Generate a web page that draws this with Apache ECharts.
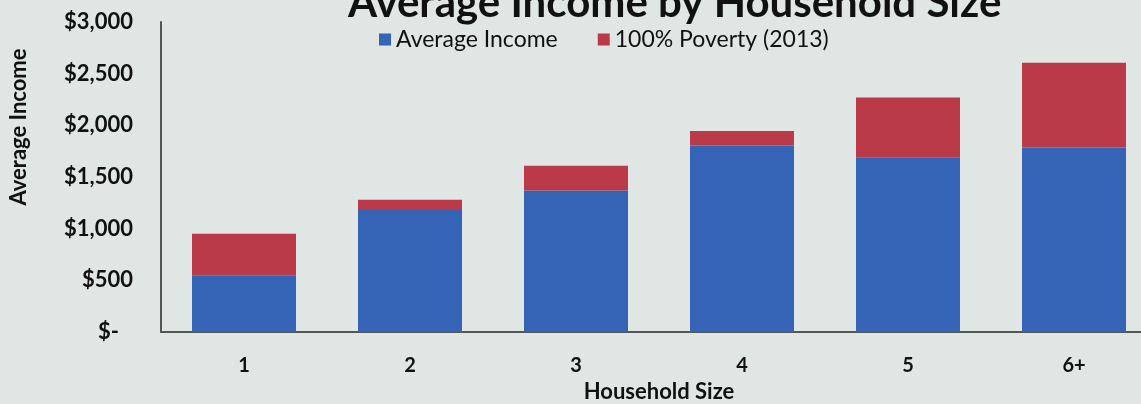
<!DOCTYPE html>
<html>
<head>
<meta charset="utf-8">
<script src="https://cdn.jsdelivr.net/npm/echarts@6/dist/echarts.min.js"></script>
<style>
html,body{margin:0;padding:0;background:#dfe6e3;}
#c{width:1141px;height:404px;}
</style>
</head>
<body>
<div id="c"></div>
<script>
var categories = ['1', '2', '3', '4', '5', '6+'];
var averageIncome = [550, 1180, 1370, 1805, 1690, 1785];
var poverty2013 = [400, 100, 240, 140, 580, 820];
var yTicks = [0, 500, 1000, 1500, 2000, 2500, 3000];

var font = 'Lato';
var chart = echarts.init(document.getElementById('c'), null, {renderer: 'canvas'});
chart.setOption({
  backgroundColor: '#dfe6e3',
  animation: false,
  title: {
    text: 'Average Income by Household Size',
    left: 343,
    top: -23,
    textStyle: {fontFamily: font, fontWeight: 'bold', fontSize: 42, color: '#111'}
  },
  legend: {
    left: 374,
    top: 23,
    itemWidth: 12,
    itemHeight: 12,
    itemGap: 40,
    icon: 'rect',
    textStyle: {fontFamily: font, fontSize: 23, color: '#111'},
    data: ['Average Income', '100% Poverty (2013)']
  },
  grid: {left: 161, top: 22, width: 996, height: 310, containLabel: false, outerBoundsMode: 'none'},
  xAxis: {
    type: 'category',
    data: categories,
    name: 'Household Size',
    nameLocation: 'middle',
    nameGap: 48,
    nameTextStyle: {fontFamily: font, fontWeight: 'bold', fontSize: 22, color: '#111'},
    axisLine: {lineStyle: {color: '#555', width: 2}},
    axisTick: {show: false},
    axisLabel: {fontFamily: font, fontWeight: 'bold', fontSize: 20, color: '#111', margin: 24}
  },
  yAxis: {
    type: 'value',
    min: yTicks[0],
    max: yTicks[yTicks.length - 1],
    interval: 500,
    name: 'Average Income',
    nameLocation: 'middle',
    nameGap: 131,
    nameTextStyle: {fontFamily: font, fontWeight: 'bold', fontSize: 22, color: '#111', padding: [0, 0, 0, 100]},
    axisLine: {show: true, lineStyle: {color: '#555', width: 2}},
    axisTick: {show: false},
    splitLine: {show: false},
    axisLabel: {
      fontFamily: font, fontWeight: 'bold', fontSize: 22, color: '#111', margin: 28,
      formatter: function (v) {
        if (v === 0) return '{z|$-}';
        return '$' + v.toLocaleString('en-US');
      },
      rich: {z: {fontFamily: font, fontWeight: 'bold', fontSize: 22, color: '#111', padding: [0, 14, 0, 0]}}
    }
  },
  series: [
    {
      name: 'Average Income',
      type: 'bar',
      stack: 'total',
      barWidth: 104,
      data: averageIncome,
      itemStyle: {color: '#3563b5'}
    },
    {
      name: '100% Poverty (2013)',
      type: 'bar',
      stack: 'total',
      barWidth: 104,
      data: poverty2013,
      itemStyle: {color: '#bb3a4a'}
    }
  ]
});
</script>
</body>
</html>
